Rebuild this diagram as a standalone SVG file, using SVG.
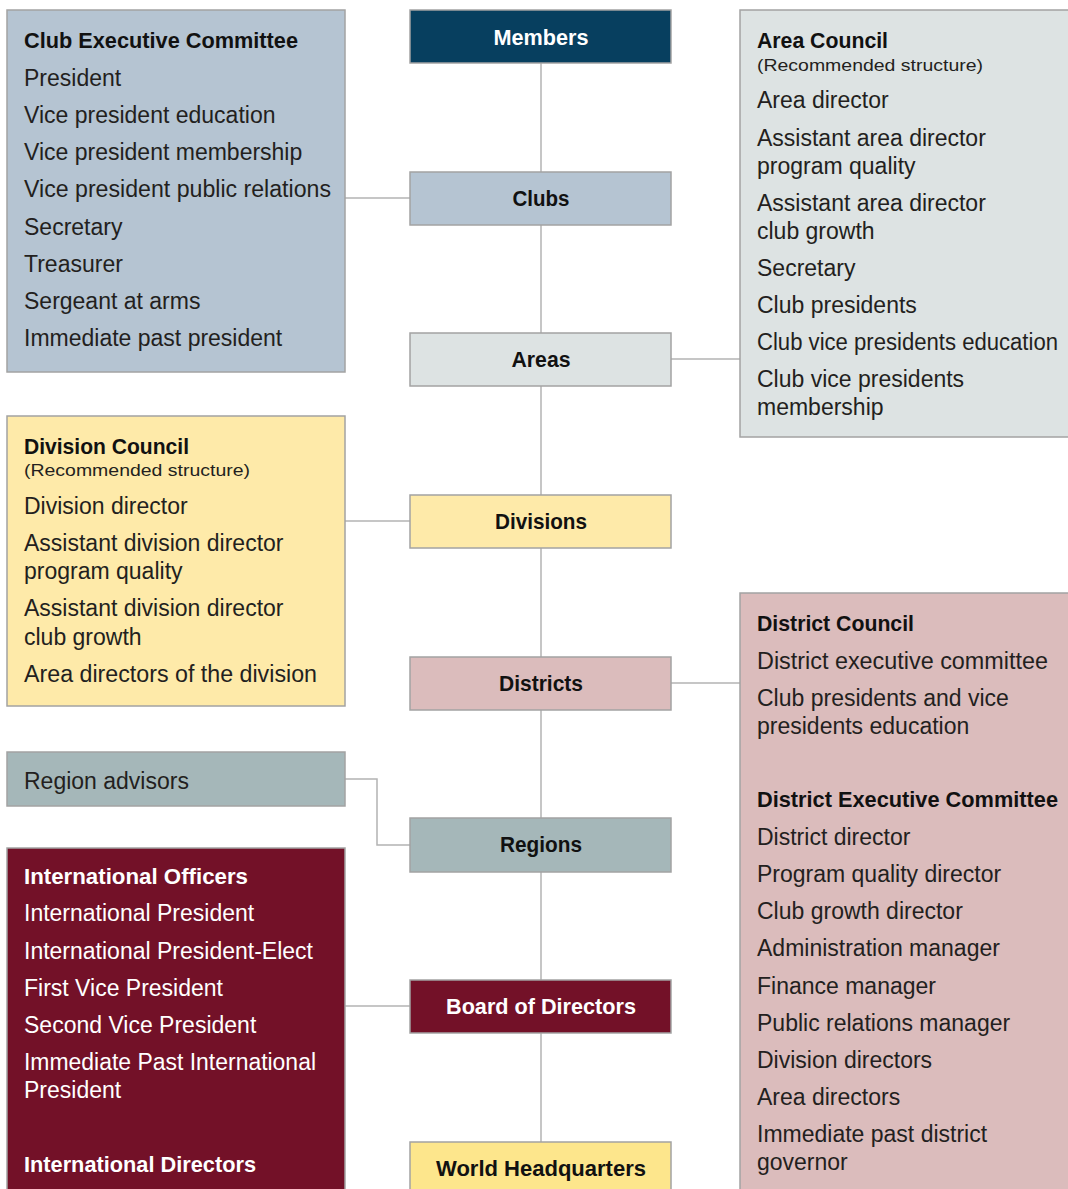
<svg xmlns="http://www.w3.org/2000/svg" width="1068" height="1189" viewBox="0 0 1068 1189">
<style>
.box{stroke:#a3a3a3;stroke-width:1.5}
.t{font-family:"Liberation Sans",Arial,sans-serif;font-size:23px;fill:#231f20}
.h{font-family:"Liberation Sans",Arial,sans-serif;font-size:22px;font-weight:bold;fill:#111}
.s{font-family:"Liberation Sans",Arial,sans-serif;font-size:17px;fill:#231f20}
.c{font-family:"Liberation Sans",Arial,sans-serif;font-size:22px;font-weight:bold;fill:#111;text-anchor:middle}
.w{fill:#fff}
.conn{stroke:#b3b3b3;stroke-width:1.5;fill:none}
</style>
<rect width="1068" height="1189" fill="#fff"/>
<g id="connectors">
<line class="conn" x1="541" y1="63" x2="541" y2="1142"/>
<line class="conn" x1="345" y1="198" x2="410" y2="198"/>
<line class="conn" x1="671" y1="359" x2="740" y2="359"/>
<line class="conn" x1="345" y1="521" x2="410" y2="521"/>
<line class="conn" x1="671" y1="683" x2="740" y2="683"/>
<polyline class="conn" points="345,779 377,779 377,845 410,845"/>
<line class="conn" x1="345" y1="1006" x2="410" y2="1006"/>
</g>
<g id="members"><rect class="box" x="410" y="10" width="261" height="53" fill="#073f5f"/><text class="c w" x="541" y="45" textLength="95" lengthAdjust="spacingAndGlyphs">Members</text></g>
<g id="clubs"><rect class="box" x="410" y="172" width="261" height="53" fill="#b5c4d2"/><text class="c" x="541" y="206" textLength="57" lengthAdjust="spacingAndGlyphs">Clubs</text></g>
<g id="areas"><rect class="box" x="410" y="333" width="261" height="53" fill="#dde3e3"/><text class="c" x="541" y="367" textLength="59" lengthAdjust="spacingAndGlyphs">Areas</text></g>
<g id="divisions"><rect class="box" x="410" y="495" width="261" height="53" fill="#feeaa9"/><text class="c" x="541" y="529" textLength="92" lengthAdjust="spacingAndGlyphs">Divisions</text></g>
<g id="districts"><rect class="box" x="410" y="657" width="261" height="53" fill="#dbbcbc"/><text class="c" x="541" y="691" textLength="84" lengthAdjust="spacingAndGlyphs">Districts</text></g>
<g id="regions"><rect class="box" x="410" y="818" width="261" height="54" fill="#a5b7b9"/><text class="c" x="541" y="852" textLength="82" lengthAdjust="spacingAndGlyphs">Regions</text></g>
<g id="board"><rect class="box" x="410" y="980" width="261" height="53" fill="#731128"/><text class="c w" x="541" y="1014" textLength="190" lengthAdjust="spacingAndGlyphs">Board of Directors</text></g>
<g id="whq"><rect class="box" x="410" y="1142" width="261" height="60" fill="#fde68c"/><text class="c" x="541" y="1176" textLength="210" lengthAdjust="spacingAndGlyphs">World Headquarters</text></g>

<g id="club-exec"><rect class="box" x="7" y="10" width="338" height="362" fill="#b5c4d2"/>
<text class="h" x="24" y="48" textLength="274" lengthAdjust="spacingAndGlyphs">Club Executive Committee</text>
<text class="t" x="24" y="86">President</text>
<text class="t" x="24" y="123">Vice president education</text>
<text class="t" x="24" y="160">Vice president membership</text>
<text class="t" x="24" y="197" textLength="307" lengthAdjust="spacingAndGlyphs">Vice president public relations</text>
<text class="t" x="24" y="235">Secretary</text>
<text class="t" x="24" y="272">Treasurer</text>
<text class="t" x="24" y="309">Sergeant at arms</text>
<text class="t" x="24" y="346">Immediate past president</text>
</g>
<g id="area-council"><rect class="box" x="740" y="10" width="340" height="427" fill="#dde3e3"/>
<text class="h" x="757" y="48" textLength="131" lengthAdjust="spacingAndGlyphs">Area Council</text>
<text class="s" x="757" y="71" textLength="226" lengthAdjust="spacingAndGlyphs">(Recommended structure)</text>
<text class="t" x="757" y="108">Area director</text>
<text class="t" x="757" y="146">Assistant area director</text>
<text class="t" x="757" y="174">program quality</text>
<text class="t" x="757" y="211">Assistant area director</text>
<text class="t" x="757" y="239">club growth</text>
<text class="t" x="757" y="276">Secretary</text>
<text class="t" x="757" y="313">Club presidents</text>
<text class="t" x="757" y="350" textLength="301" lengthAdjust="spacingAndGlyphs">Club vice presidents education</text>
<text class="t" x="757" y="387">Club vice presidents</text>
<text class="t" x="757" y="415">membership</text>
</g>
<g id="division-council"><rect class="box" x="7" y="416" width="338" height="290" fill="#feeaa9"/>
<text class="h" x="24" y="454" textLength="165" lengthAdjust="spacingAndGlyphs">Division Council</text>
<text class="s" x="24" y="476" textLength="226" lengthAdjust="spacingAndGlyphs">(Recommended structure)</text>
<text class="t" x="24" y="514">Division director</text>
<text class="t" x="24" y="551">Assistant division director</text>
<text class="t" x="24" y="579">program quality</text>
<text class="t" x="24" y="616">Assistant division director</text>
<text class="t" x="24" y="645">club growth</text>
<text class="t" x="24" y="682" textLength="293" lengthAdjust="spacingAndGlyphs">Area directors of the division</text>
</g>
<g id="district-council"><rect class="box" x="740" y="593" width="340" height="610" fill="#dbbcbc"/>
<text class="h" x="757" y="631" textLength="157" lengthAdjust="spacingAndGlyphs">District Council</text>
<text class="t" x="757" y="669" textLength="291" lengthAdjust="spacingAndGlyphs">District executive committee</text>
<text class="t" x="757" y="706">Club presidents and vice</text>
<text class="t" x="757" y="734">presidents education</text>
<text class="h" x="757" y="807" textLength="301" lengthAdjust="spacingAndGlyphs">District Executive Committee</text>
<text class="t" x="757" y="845">District director</text>
<text class="t" x="757" y="882">Program quality director</text>
<text class="t" x="757" y="919">Club growth director</text>
<text class="t" x="757" y="956">Administration manager</text>
<text class="t" x="757" y="994">Finance manager</text>
<text class="t" x="757" y="1031">Public relations manager</text>
<text class="t" x="757" y="1068">Division directors</text>
<text class="t" x="757" y="1105">Area directors</text>
<text class="t" x="757" y="1142">Immediate past district</text>
<text class="t" x="757" y="1170">governor</text>
</g>
<g id="region-advisors"><rect class="box" x="7" y="752" width="338" height="54" fill="#a5b7b9"/>
<text class="t" x="24" y="789">Region advisors</text>
</g>
<g id="intl-officers"><rect class="box" x="7" y="848" width="338" height="360" fill="#731128"/>
<text class="h w" x="24" y="884" textLength="224" lengthAdjust="spacingAndGlyphs">International Officers</text>
<text class="t w" x="24" y="921">International President</text>
<text class="t w" x="24" y="959">International President-Elect</text>
<text class="t w" x="24" y="996">First Vice President</text>
<text class="t w" x="24" y="1033">Second Vice President</text>
<text class="t w" x="24" y="1070" textLength="292" lengthAdjust="spacingAndGlyphs">Immediate Past International</text>
<text class="t w" x="24" y="1098">President</text>
<text class="h w" x="24" y="1172" textLength="232" lengthAdjust="spacingAndGlyphs">International Directors</text>
</g>
</svg>
